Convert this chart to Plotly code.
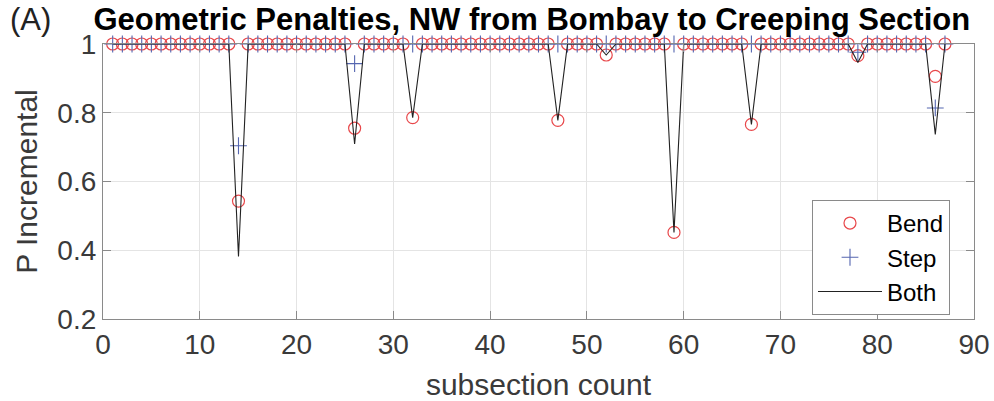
import plotly.graph_objects as go

# Subsection index along the route
subsection = [1, 2, 3, 4, 5, 6, 7, 8, 9, 10, 11, 12, 13, 14, 15, 16, 17, 18, 19, 20,
              21, 22, 23, 24, 25, 26, 27, 28, 29, 30, 31, 32, 33, 34, 35, 36, 37, 38, 39, 40,
              41, 42, 43, 44, 45, 46, 47, 48, 49, 50, 51, 52, 53, 54, 55, 56, 57, 58, 59, 60,
              61, 62, 63, 64, 65, 66, 67, 68, 69, 70, 71, 72, 73, 74, 75, 76, 77, 78, 79, 80,
              81, 82, 83, 84, 85, 86, 87]

# Incremental probability from bend penalties
bend = [1, 1, 1, 1, 1, 1, 1, 1, 1, 1, 1, 1, 1, 0.543, 1, 1, 1, 1, 1, 1,
        1, 1, 1, 1, 1, 0.755, 1, 1, 1, 1, 1, 0.786, 1, 1, 1, 1, 1, 1, 1, 1,
        1, 1, 1, 1, 1, 1, 0.778, 1, 1, 1, 1, 0.968, 1, 1, 1, 1, 1, 1, 0.452, 1,
        1, 1, 1, 1, 1, 1, 0.766, 1, 1, 1, 1, 1, 1, 1, 1, 1, 1, 0.966, 1, 1,
        1, 1, 1, 1, 1, 0.906, 1]

# Incremental probability from step penalties
step = [1, 1, 1, 1, 1, 1, 1, 1, 1, 1, 1, 1, 1, 0.704, 1, 1, 1, 1, 1, 1,
        1, 1, 1, 1, 1, 0.943, 1, 1, 1, 1, 1, 1, 1, 1, 1, 1, 1, 1, 1, 1,
        1, 1, 1, 1, 1, 1, 1, 1, 1, 1, 1, 1, 1, 1, 1, 1, 1, 1, 1, 1,
        1, 1, 1, 1, 1, 1, 1, 1, 1, 1, 1, 1, 1, 1, 1, 1, 1, 0.976, 1, 1,
        1, 1, 1, 1, 1, 0.814, 1]

# Combined incremental probability
both = [1, 1, 1, 1, 1, 1, 1, 1, 1, 1, 1, 1, 1, 0.382, 1, 1, 1, 1, 1, 1,
        1, 1, 1, 1, 1, 0.709, 1, 1, 1, 1, 1, 0.786, 1, 1, 1, 1, 1, 1, 1, 1,
        1, 1, 1, 1, 1, 1, 0.778, 1, 1, 1, 1, 0.968, 1, 1, 1, 1, 1, 1, 0.452, 1,
        1, 1, 1, 1, 1, 1, 0.766, 1, 1, 1, 1, 1, 1, 1, 1, 1, 1, 0.946, 1, 1,
        1, 1, 1, 1, 1, 0.737, 1]

x_ticks = [0, 10, 20, 30, 40, 50, 60, 70, 80, 90]
y_ticks = [0.2, 0.4, 0.6, 0.8, 1]

FONT = "Liberation Sans, Arial, Helvetica, sans-serif"
RED = "#e8474a"
BLUE = "#5566b0"

fig = go.Figure()
fig.add_trace(go.Scatter(
    x=subsection, y=bend, mode="markers", name="Bend", cliponaxis=False,
    marker=dict(symbol="circle-open", size=12, color=RED, line=dict(width=1.2, color=RED)),
))
fig.add_trace(go.Scatter(
    x=subsection, y=step, mode="markers", name="Step", cliponaxis=False,
    marker=dict(symbol="cross-thin-open", size=12, color=BLUE, line=dict(width=1.1, color=BLUE)),
))
fig.add_trace(go.Scatter(
    x=subsection, y=both, mode="lines", name="Both", cliponaxis=False,
    line=dict(color="#222222", width=1.1),
))

axis_common = dict(
    showline=True, linecolor="#8a8a8a", linewidth=1.2, mirror="ticks",
    ticks="inside", ticklen=8, tickcolor="#8a8a8a", tickwidth=1,
    showgrid=True, gridcolor="#e4e4e4", gridwidth=1, zeroline=False,
    automargin=False,
    tickfont=dict(family=FONT, size=28, color="#3a3a3a"),
)

fig.update_xaxes(
    range=[0, 90], tickvals=x_ticks, ticktext=[str(v) for v in x_ticks],
    title=dict(text="subsection count", font=dict(family=FONT, size=30, color="#3a3a3a"), standoff=15),
    **axis_common,
)
fig.update_yaxes(
    range=[0.2, 1], tickvals=y_ticks, ticktext=["0.2", "0.4", "0.6", "0.8", "1"],
    title=dict(text="P Incremental", font=dict(family=FONT, size=30, color="#3a3a3a"), standoff=10),
    **axis_common,
)

fig.update_layout(
    width=994, height=401,
    margin=dict(l=103, r=20, t=44, b=82),
    paper_bgcolor="white", plot_bgcolor="white",
    font=dict(family=FONT),
    title=dict(
        text="<b>Geometric Penalties, NW from Bombay to Creeping Section</b>",
        font=dict(family=FONT, size=31, color="black"),
        x=0.535, xanchor="center", y=0.952, yanchor="middle",
    ),
    showlegend=True,
    legend=dict(
        x=0.814, y=0.433, xanchor="left", yanchor="top",
        bgcolor="white", bordercolor="#8a8a8a", borderwidth=1,
        font=dict(family=FONT, size=24, color="black"),
        itemwidth=64, tracegroupgap=0,
    ),
    annotations=[dict(
        text="(A)", xref="paper", yref="paper", x=-0.109, y=1.09,
        xanchor="left", yanchor="middle", showarrow=False,
        font=dict(family=FONT, size=31, color="#222222"),
    )],
)

fig.write_html("out.html")
